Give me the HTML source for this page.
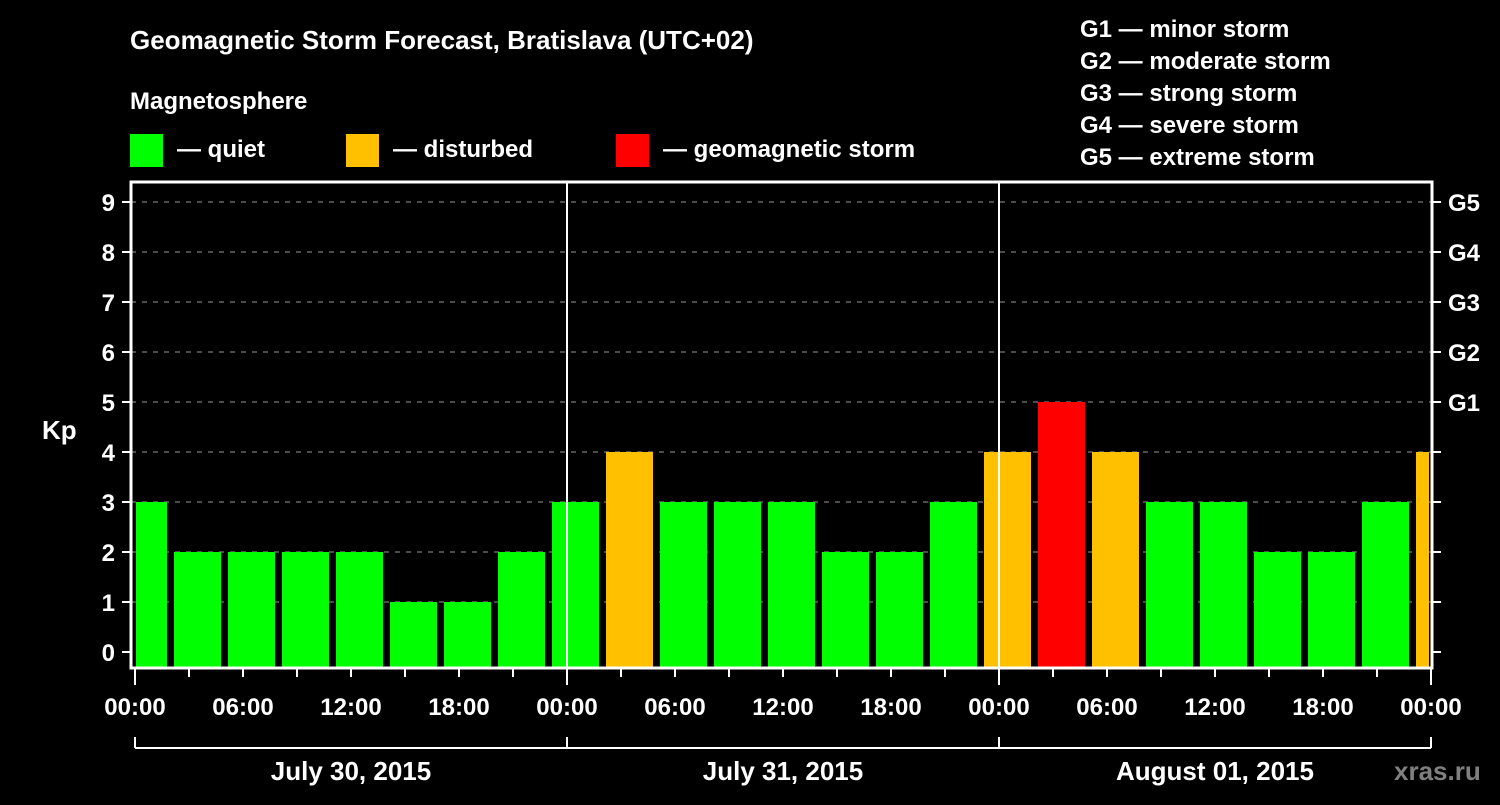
<!DOCTYPE html>
<html><head><meta charset="utf-8"><style>
body{margin:0;background:#000;width:1500px;height:800px;overflow:hidden}
svg text{font-family:"Liberation Sans",sans-serif;font-weight:bold;fill:#fff}
</style></head><body>
<svg id="c" width="1500" height="800" xmlns="http://www.w3.org/2000/svg">
<text x="130" y="49" font-size="26">Geomagnetic Storm Forecast, Bratislava (UTC+02)</text>
<text x="130" y="109" font-size="24">Magnetosphere</text>
<g>
<rect x="130" y="134" width="33" height="33" fill="#00ff00"/>
<text x="177" y="157" font-size="24">— quiet</text>
<rect x="346" y="134" width="33" height="33" fill="#ffc000"/>
<text x="393" y="157" font-size="24">— disturbed</text>
<rect x="616" y="134" width="33" height="33" fill="#ff0000"/>
<text x="663" y="157" font-size="24">— geomagnetic storm</text>
</g>
<g font-size="24">
<text x="1080" y="37">G1 — minor storm</text>
<text x="1080" y="69">G2 — moderate storm</text>
<text x="1080" y="101">G3 — strong storm</text>
<text x="1080" y="133">G4 — severe storm</text>
<text x="1080" y="165">G5 — extreme storm</text>
</g>
<text x="42" y="439" font-size="26">Kp</text>
<text x="1394" y="780" font-size="26" fill="#888" style="fill:#808080">xras.ru</text>
<g id="plot"></g>
</svg>
<script>
const kpValues=[3,2,2,2,2,1,1,2,3,4,3,3,3,2,2,3,4,5,4,3,3,2,2,3,4];
const dayLabels=["July 30, 2015","July 31, 2015","August 01, 2015"];
const timeLabels=["00:00","06:00","12:00","18:00"];
const gLabels=["G1","G2","G3","G4","G5"];
const yTicks=[0,1,2,3,4,5,6,7,8,9];

const NS="http://www.w3.org/2000/svg";
const g=document.getElementById('plot');
const L=131,R=1432,T=182,B=668,X0=135,PXH=18;
const y=v=>652-v*50;
const x=h=>X0+h*PXH;
function mk(t,a,p){const e=document.createElementNS(NS,t);for(const k in a)e.setAttribute(k,a[k]);(p||g).appendChild(e);return e;}
function col(v){return v>=5?"#ff0000":v>=4?"#ffc000":"#00ff00";}
yTicks.forEach(v=>{
  if(v>0){const l=mk('line',{x1:L,x2:R,y1:y(v),y2:y(v),stroke:'#999','stroke-width':1,'stroke-dasharray':'5,6'});
  
  }
  const t=mk('line',{x1:L-9,x2:L,y1:y(v),y2:y(v),stroke:'#fff','stroke-width':2});
  
  
  const t2=mk('line',{x1:R,x2:R+9,y1:y(v),y2:y(v),stroke:'#fff','stroke-width':2});
  
  
  const tx=mk('text',{x:L-16,y:y(v)+9,'font-size':24,'text-anchor':'end'});
  tx.textContent=v;
  
  
});
gLabels.forEach((s,i)=>{
  const tx=mk('text',{x:R+16,y:y(5+i)+9,'font-size':24});
  tx.textContent=s;
  
  
});
kpValues.forEach((v,i)=>{
  let x1=x(3*i-0.8333),x2=x1+47;
  x1=Math.max(x1,L+5);x2=Math.min(x2,R-3);
  const r=mk('rect',{x:x1,y:y(v),width:x2-x1,height:B-y(v),fill:col(v)});
  
  
});
[1,2].forEach(d=>{
  const l=mk('line',{x1:x(24*d),x2:x(24*d),y1:T,y2:B,stroke:'#fff','stroke-width':2});
  
  
});
const fr=mk('rect',{x:L,y:T,width:R-L,height:B-T,fill:'none',stroke:'#fff','stroke-width':3});


for(let h=0;h<=72;h+=3){
  const big=h%24==0;
  const l=mk('line',{x1:x(h),x2:x(h),y1:B,y2:B+(big?17:9),stroke:'#fff','stroke-width':2});
  
  
}
for(let h=0;h<=72;h+=6){
  const tx=mk('text',{x:x(h),y:715,'font-size':24,'text-anchor':'middle'});
  tx.textContent=timeLabels[(h/6)%4];
  
  
}
const br=mk('line',{x1:x(0),x2:x(72),y1:748,y2:748,stroke:'#fff','stroke-width':2});


[0,1,2,3].forEach(d=>{
  const l=mk('line',{x1:x(24*d),x2:x(24*d),y1:737,y2:748,stroke:'#fff','stroke-width':2});
  
  
});
dayLabels.forEach((s,d)=>{
  const tx=mk('text',{x:x(24*d+12),y:780,'font-size':26,'text-anchor':'middle'});
  tx.textContent=s;
  
  
});
</script>
</body></html>
